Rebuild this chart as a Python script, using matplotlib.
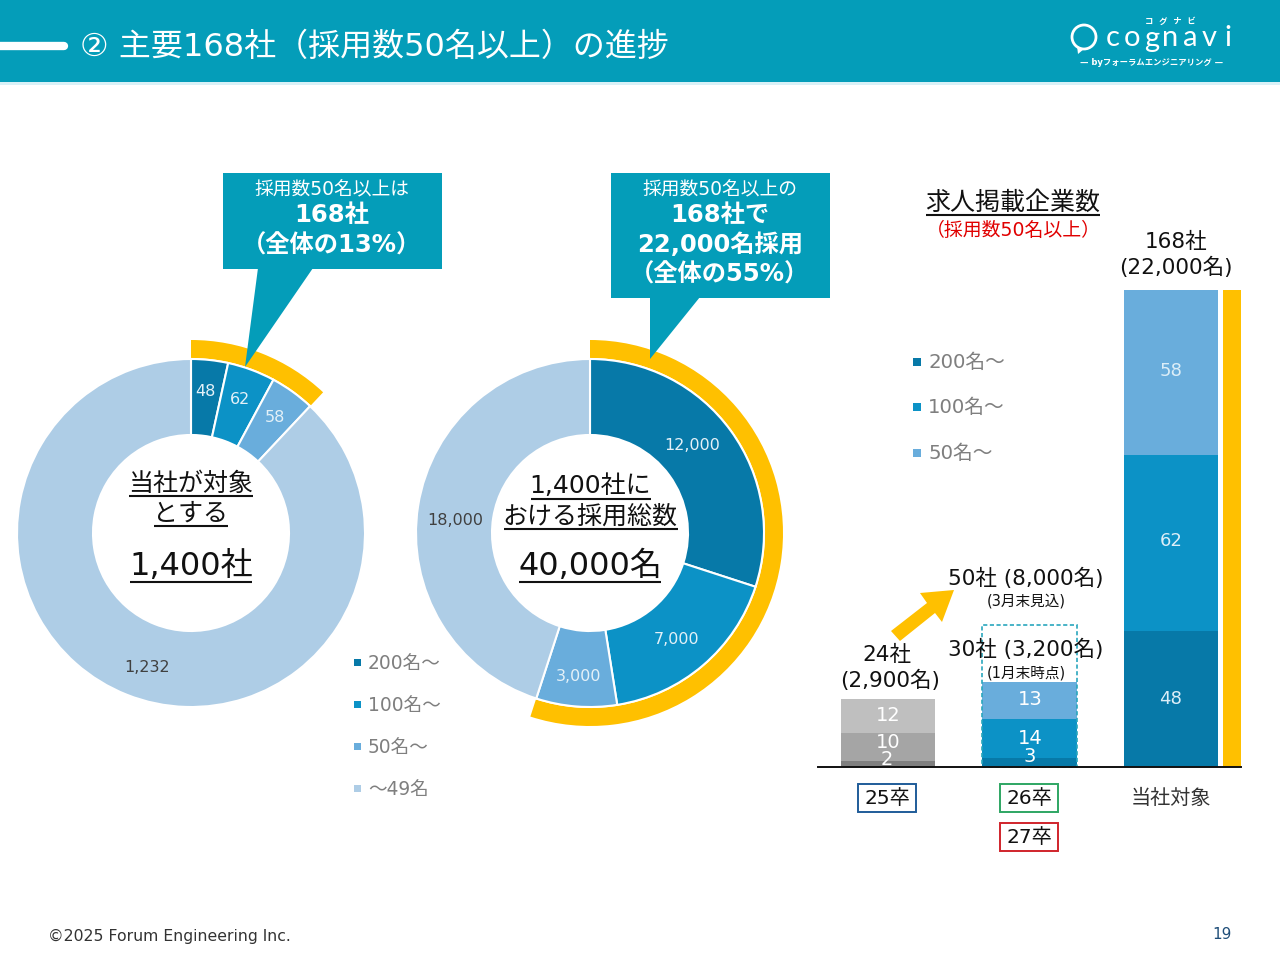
import matplotlib
matplotlib.use("Agg")
import matplotlib.pyplot as plt
from matplotlib.patches import Rectangle, Polygon, Circle

plt.rcParams["font.family"] = ["DejaVu Sans", "Noto Sans CJK JP"]

TEAL, GOLD, INK, SUB = "#049DB9", "#FFC000", "#111111", "#7F7F7F"
C200, C100, C50, C49 = "#0779A8", "#0C92C6", "#69ADDC", "#AECDE6"
GRAYS = ["#7F7F7F", "#A5A5A5", "#BFBFBF"]

# 左のドーナツ：会社数
companies = [48, 62, 58, 1232]
companies_gold = [168, 1232]
# 中央のドーナツ：採用数
hires = [12000, 7000, 3000, 18000]
hires_gold = [22000, 18000]
legend_labels = ["200名～", "100名～", "50名～", "～49名"]

# 右の積み上げ棒
bar_labels = ["25卒", "26卒", "当社対象"]
seg_200 = [2, 3, 48]
seg_100 = [10, 14, 62]
seg_50 = [12, 13, 58]
forecast_26 = 50
target_total = 168

fig = plt.figure(figsize=(12.8, 9.6), dpi=100, facecolor="white")


def px_axes(x0, y0, x1, y1, zorder=1):
    # ピクセル座標（上が0）で axes を置く
    return fig.add_axes([x0 / 1280, 1 - y1 / 960, (x1 - x0) / 1280, (y1 - y0) / 960],
                        zorder=zorder)


def donut(cx, cy, values, gold):
    ax = px_axes(cx - 200, cy - 200, cx + 200, cy + 200)
    ax.pie(gold, radius=193, startangle=90, counterclock=False,
           colors=[GOLD, "none"], wedgeprops=dict(width=18, linewidth=0))
    ax.pie(values, radius=174, startangle=90, counterclock=False,
           colors=[C200, C100, C50, C49],
           wedgeprops=dict(width=76, edgecolor="white", linewidth=1.5))
    ax.set_xlim(-200, 200)
    ax.set_ylim(-200, 200)
    ax.set_aspect("equal")
    ax.axis("off")


donut(191, 533, companies, companies_gold)
donut(590, 533, hires, hires_gold)

# 棒グラフ
bx = px_axes(818, 290, 1241, 767)
xs = range(len(bar_labels))
bottom_100 = seg_200
bottom_50 = [a + b for a, b in zip(seg_200, seg_100)]
bar_w = 0.67
for i in xs:
    col200, col100, col50 = (GRAYS if i == 0 else [C200, C100, C50])
    bx.bar(i, seg_200[i], bar_w, color=col200)
    bx.bar(i, seg_100[i], bar_w, bottom=bottom_100[i], color=col100)
    bx.bar(i, seg_50[i], bar_w, bottom=bottom_50[i], color=col50)
bx.bar(1, forecast_26, bar_w, fill=False, edgecolor="#2AA7BD", linestyle=(0, (2.5, 1.5)),
       linewidth=1.2, clip_on=False)
bx.bar(2.43, target_total, 0.127, color=GOLD)
bx.set_xlim(-0.495, 2.495)
bx.set_ylim(0, target_total)
bx.axis("off")
bx.plot([-0.495, 2.495], [0, 0], color="#111111", lw=1.4, clip_on=False)

# 注釈レイヤ（ピクセル座標）
ov = fig.add_axes([0, 0, 1, 1], zorder=5)
ov.set_xlim(0, 1280)
ov.set_ylim(960, 0)
ov.axis("off")
ov.patch.set_alpha(0)


def t(x, y, s, size, color=INK, weight="normal", ha="center", **kw):
    ov.text(x, y + 1.5, s, fontsize=size, color=color, fontweight=weight, ha=ha, va="center", **kw)


def uline(x0, x1, y, lw=1.5):
    ov.plot([x0, x1], [y, y], color="#111111", lw=lw, solid_capstyle="butt")


# ヘッダー
ov.add_patch(Rectangle((0, 0), 1280, 82, color=TEAL, lw=0))
ov.add_patch(Rectangle((0, 82), 1280, 3, color="#D9F1F7", lw=0))
ov.plot([0, 64], [46, 46], color="white", lw=6, solid_capstyle="round")
t(80, 46, "② 主要168社（採用数50名以上）の進捗", 23, color="white", ha="left")

# ロゴ
ov.add_patch(Circle((1084, 37), 12, fill=False, ec="white", lw=2))
ov.add_patch(Polygon([[1077, 46], [1084, 49], [1078, 54]], color="white", lw=0))
for i, ch in enumerate("cognavi"):
    t(1113 + i * 19.2, 37, ch, 21, color="white", family=["Lato", "DejaVu Sans"])
t(1170, 20, "コ  グ  ナ  ビ", 6, color="white", weight="bold")
t(1152, 61, "— byフォーラムエンジニアリング —", 6, color="white", weight="bold")

# 吹き出し
ov.add_patch(Rectangle((223, 173), 219, 96, color=TEAL, lw=0))
ov.add_patch(Polygon([[258, 268], [313, 268], [245, 367]], color=TEAL, lw=0))
t(332, 188, "採用数50名以上は", 13.5, color="white")
t(332, 214, "168社", 17.5, color="white", weight="bold")
t(332, 244, "（全体の13%）", 17.5, color="white", weight="bold")

ov.add_patch(Rectangle((611, 173), 219, 125, color=TEAL, lw=0))
ov.add_patch(Polygon([[650, 297], [700, 297], [650, 359]], color=TEAL, lw=0))
t(720, 188, "採用数50名以上の", 13.5, color="white")
t(720, 213, "168社で", 17.5, color="white", weight="bold")
t(720, 243, "22,000名採用", 17.5, color="white", weight="bold")
t(720, 273, "（全体の55%）", 17.5, color="white", weight="bold")

# ドーナツのラベル
for (x, y), v in zip([(205, 390), (240, 398), (275, 416)], companies[:3]):
    t(x, y, f"{v}", 11.5, color="#E4F1F8")
t(147, 666, f"{companies[3]:,}", 11.5, color="#404040")
for (x, y), v, c in zip([(692, 444), (677, 638), (579, 675), (455, 519)], hires,
                        ["#E4F1F8", "#E4F1F8", "#E4F1F8", "#404040"]):
    t(x, y, f"{v:,}", 11.5, color=c)

# ドーナツの中央
t(191, 482, "当社が対象", 18)
uline(129, 253, 496)
t(191, 512, "とする", 18)
uline(154, 228, 526)
t(191, 565, "1,400社", 23)
uline(130, 252, 582)

t(590, 485, "1,400社に", 18)
uline(531, 651, 499)
t(590, 515, "おける採用総数", 18)
uline(504, 678, 529)
t(590, 565, "40,000名", 23)
uline(519, 661, 582)

# 凡例
for y, lab, c in zip([663, 705, 747, 789], legend_labels, [C200, C100, C50, C49]):
    ov.add_patch(Rectangle((354, y - 4), 7, 7, color=c, lw=0))
    t(368, y - 1, lab, 13.4, color=SUB, ha="left")
for y, lab, c in zip([362, 407, 453], legend_labels[:3], [C200, C100, C50]):
    ov.add_patch(Rectangle((913, y - 4), 8, 8, color=c, lw=0))
    t(928, y - 1, lab, 14.2, color=SUB, ha="left")

# 棒グラフの文字
t(1013, 201, "求人掲載企業数", 18)
uline(926, 1100, 215)
t(1013, 229, "（採用数50名以上）", 13.6, color="#E00000")
t(1176, 240, "168社", 15.5)
t(1176, 266, "(22,000名)", 15.5)

for (x, y), v in zip([(1171, 369), (1171, 540), (1171, 697)], [seg_50[2], seg_100[2], seg_200[2]]):
    t(x, y, f"{v}", 13, color="#DCEEF8")
for (x, y), v in zip([(1030, 698), (1030, 737), (1030, 755)], [seg_50[1], seg_100[1], seg_200[1]]):
    t(x, y, f"{v}", 14, color="white")
for (x, y), v in zip([(888, 714), (888, 741), (887, 758)], [seg_50[0], seg_100[0], seg_200[0]]):
    t(x, y, f"{v}", 14, color="white")

t(887, 653, "24社", 15.5)
t(890, 679, "(2,900名)", 15.5)
t(1026, 577, "50社 (8,000名)", 15.5)
t(1026, 599, "(3月末見込)", 10.5)
t(1026, 648, "30社 (3,200名)", 15.5)
t(1026, 671, "(1月末時点)", 10.5)

# 黄色の矢印
ov.add_patch(Polygon([[891, 631], [927, 603], [920, 593], [954, 590], [942, 622], [935, 613], [900, 641]],
                     color=GOLD, lw=0))

for x, y, lab, ec in [(887, 798, bar_labels[0], "#1F5C99"), (1029, 798, bar_labels[1], "#2EA663"),
                      (1029, 837, "27卒", "#D0242B")]:
    ov.add_patch(Rectangle((x - 29, y - 14), 58, 28, fill=False, ec=ec, lw=1.4))
    t(x, y - 1, lab, 14.5)
t(1171, 797, bar_labels[2], 14.5, color="#333333")

# フッター
t(48, 935, "©2025 Forum Engineering Inc.", 11.3, color="#333333", ha="left")
t(1222, 933, "19", 11, color="#1F4E79")

fig.savefig("out.png", dpi=100, facecolor="white")
